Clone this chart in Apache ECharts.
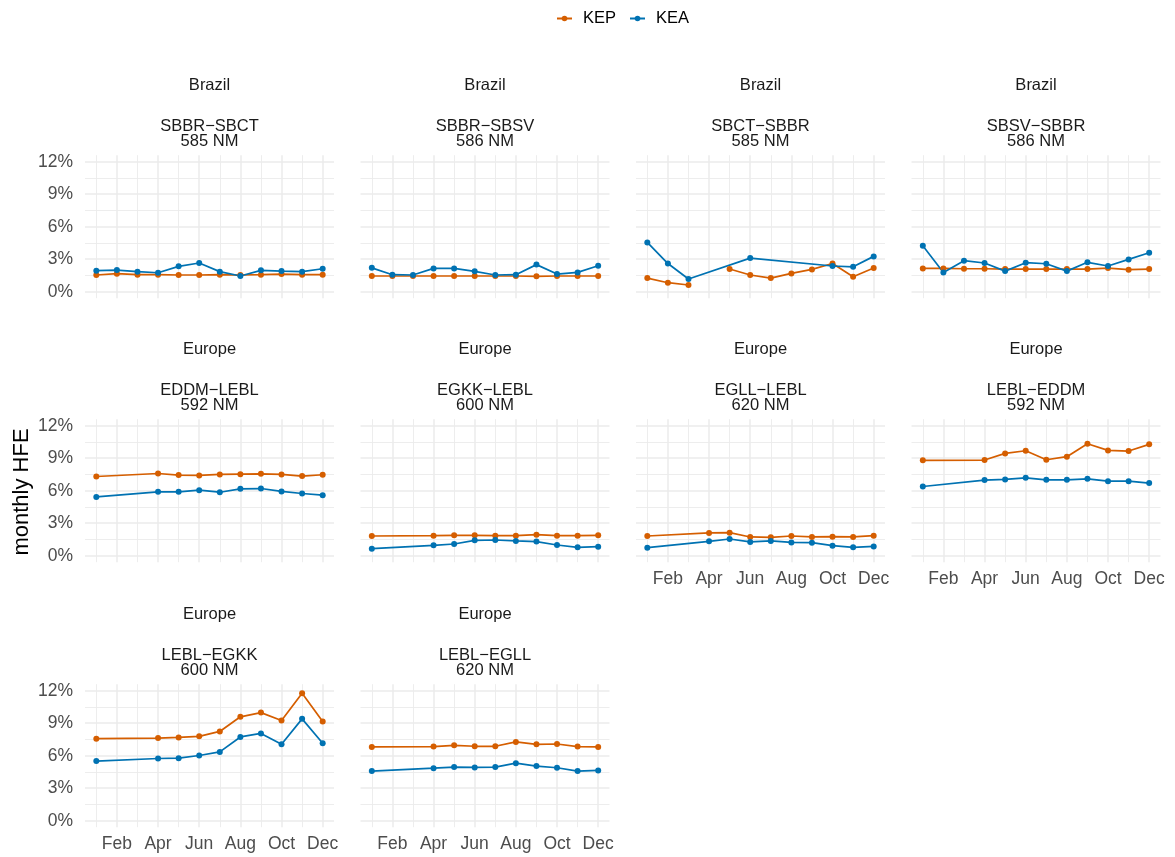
<!DOCTYPE html>
<html>
<head>
<meta charset="utf-8">
<script src="https://cdn.jsdelivr.net/npm/echarts@6/dist/echarts.min.js"></script>
<style>
html,body{margin:0;padding:0;background:#fff;}
#chart{width:1175px;height:857px;}
</style>
</head>
<body>
<div id="chart"></div>
<script>
// ---------- data ----------
var months = ['Jan','Feb','Mar','Apr','May','Jun','Jul','Aug','Sep','Oct','Nov','Dec'];
var xTickMonths = [2,4,6,8,10,12];
var xMinorMonths = [1,3,5,7,9,11];
var yTicks = [0,3,6,9,12];
var yMinorTicks = [1.5,4.5,7.5,10.5];
var seriesNames = ['KEP','KEA'];
var regions = ['Brazil','Brazil','Brazil','Brazil','Europe','Europe','Europe','Europe','Europe','Europe'];
var routes = ['SBBR\u2212SBCT','SBBR\u2212SBSV','SBCT\u2212SBBR','SBSV\u2212SBBR','EDDM\u2212LEBL','EGKK\u2212LEBL','EGLL\u2212LEBL','LEBL\u2212EDDM','LEBL\u2212EGKK','LEBL\u2212EGLL'];
var distances = ['585 NM','586 NM','585 NM','586 NM','592 NM','600 NM','620 NM','592 NM','600 NM','620 NM'];
// null = month absent (line connects over it); 'NA' = missing value (line breaks)
var kep = [
  [1.54,1.66,1.57,1.57,1.54,1.54,1.57,1.54,1.57,1.63,1.57,1.57],
  [1.45,1.45,1.45,1.45,1.45,1.45,1.45,1.45,1.42,1.45,1.45,1.45],
  [1.26,0.83,0.62,'NA',2.09,1.54,1.26,1.69,2.06,2.60,1.38,2.18],
  [2.15,2.15,2.12,2.12,2.09,2.09,2.09,2.09,2.09,2.18,2.03,2.09],
  [7.31,null,null,7.59,7.44,7.41,7.50,7.53,7.56,7.50,7.35,7.47],
  [1.82,null,null,1.85,1.88,1.88,1.85,1.85,1.94,1.85,1.85,1.88],
  [1.82,null,null,2.10,2.13,1.73,1.70,1.82,1.73,1.76,1.73,1.85],
  [8.80,null,null,8.83,9.44,9.69,8.86,9.14,10.34,9.72,9.66,10.28],
  [7.57,null,null,7.63,7.69,7.79,8.24,9.59,9.98,9.25,11.76,9.16],
  [6.81,null,null,6.84,6.96,6.87,6.87,7.27,7.05,7.08,6.84,6.81]
];
var kea = [
  [1.94,2.00,1.85,1.75,2.34,2.65,1.85,1.45,1.97,1.90,1.85,2.12],
  [2.20,1.57,1.54,2.15,2.15,1.88,1.54,1.57,2.50,1.63,1.78,2.40],
  [4.55,2.60,1.17,null,null,3.10,null,null,null,2.37,2.30,3.26],
  [4.25,1.78,2.86,2.65,1.90,2.68,2.58,1.90,2.71,2.37,2.98,3.60],
  [5.43,null,null,5.90,5.90,6.05,5.86,6.17,6.20,5.93,5.74,5.59],
  [0.65,null,null,0.96,1.08,1.42,1.45,1.36,1.30,0.99,0.77,0.83],
  [0.74,null,null,1.33,1.54,1.27,1.36,1.23,1.20,0.93,0.77,0.86],
  [6.39,null,null,6.98,7.04,7.19,7.00,7.00,7.10,6.88,6.88,6.70],
  [5.50,null,null,5.74,5.77,6.02,6.35,7.73,8.06,7.05,9.40,7.15],
  [4.58,null,null,4.85,4.95,4.92,4.95,5.31,5.04,4.89,4.58,4.64]
];

(function(){
  // ---------- layout / style ----------
  var FONT = '"Liberation Sans", Arial, Helvetica, sans-serif';
  var colors = {KEP:'#D55E00', KEA:'#0072B2'};
  var colLefts = [85, 360.5, 636, 911.5];
  var rowTops = [155.2, 419.2, 684.2];
  var panelW = 249, panelH = 143;
  var gridColor = '#EBEBEB';

  function toData(arr){
    var out = [];
    arr.forEach(function(v,i){
      if (v === null) return;
      out.push([i+1, v === 'NA' ? '-' : v]);
    });
    return out;
  }

  var grids = [], xAxes = [], yAxes = [], series = [], graphics = [];
  var nPanels = routes.length;
  for (var p = 0; p < nPanels; p++) {
    var rowI = Math.floor(p/4), colI = p % 4;
    var gx = colLefts[colI], gy = rowTops[rowI];
    grids.push({left:gx, top:gy, width:panelW, height:panelH});
    var showX = (p + 4 >= nPanels);
    var showY = (colI === 0);
    xAxes.push({
      gridIndex:p, type:'value', min:0.45, max:12.55,
      axisLine:{show:false, onZero:false},
      axisTick:{show:false, customValues:xTickMonths},
      axisLabel:{show:showX, customValues:xTickMonths, margin:8, color:'#4D4D4D', fontSize:17.5, fontFamily:FONT,
        formatter:function(v){ return months[Math.round(v)-1] || ''; }},
      splitLine:{show:true, lineStyle:{color:gridColor, width:1.5}}
    });
    xAxes.push({
      gridIndex:p, type:'value', min:0.45, max:12.55, position:'top',
      axisLine:{show:false, onZero:false},
      axisTick:{show:false, customValues:xMinorMonths},
      axisLabel:{show:false},
      splitLine:{show:true, lineStyle:{color:gridColor, width:0.9}}
    });
    yAxes.push({
      gridIndex:p, type:'value', min:-0.6, max:12.6, position:'left',
      axisLine:{show:false, onZero:false},
      axisTick:{show:false, customValues:yTicks},
      axisLabel:{show:showY, customValues:yTicks, margin:12, color:'#4D4D4D', fontSize:17.5, fontFamily:FONT,
        formatter:function(v){ return Math.round(v) + '%'; }},
      splitLine:{show:true, lineStyle:{color:gridColor, width:1.5}}
    });
    yAxes.push({
      gridIndex:p, type:'value', min:-0.6, max:12.6, position:'right',
      axisLine:{show:false, onZero:false},
      axisTick:{show:false, customValues:yMinorTicks},
      axisLabel:{show:false},
      splitLine:{show:true, lineStyle:{color:gridColor, width:0.9}}
    });
    [kep, kea].forEach(function(src, k){
      var name = seriesNames[k];
      series.push({
        name:name, type:'line', xAxisIndex:2*p, yAxisIndex:2*p,
        data:toData(src[p]), connectNulls:false,
        symbol:'circle', symbolSize:6, showSymbol:true,
        lineStyle:{color:colors[name], width:1.7},
        itemStyle:{color:colors[name]},
        emphasis:{disabled:true}, z:3
      });
    });
    var cx = gx + panelW/2;
    graphics.push({type:'text', x:cx, y:gy-70, style:{text:regions[p], font:'16.5px '+FONT, fill:'#1A1A1A', align:'center', verticalAlign:'middle'}});
    graphics.push({type:'text', x:cx, y:gy-29, style:{text:routes[p], font:'16.5px '+FONT, fill:'#1A1A1A', align:'center', verticalAlign:'middle'}});
    graphics.push({type:'text', x:cx, y:gy-13.5, style:{text:distances[p], font:'16.5px '+FONT, fill:'#1A1A1A', align:'center', verticalAlign:'middle'}});
  }
  graphics.push({type:'text', x:21.5, y:492, rotation:Math.PI/2,
    style:{text:'monthly HFE', font:'22px '+FONT, fill:'#000', align:'center', verticalAlign:'middle'}});

  var chart = echarts.init(document.getElementById('chart'), null, {renderer:'canvas'});
  chart.setOption({
    backgroundColor:'#fff',
    animation:false,
    legend:{
      data:seriesNames, top:5, left:551, itemWidth:15, itemHeight:7, itemGap:13,
      textStyle:{fontSize:16.5, fontFamily:FONT, color:'#000', padding:[0,0,0,6]},
      selectedMode:false
    },
    grid:grids, xAxis:xAxes, yAxis:yAxes, series:series, graphic:graphics
  });
})();
</script>
</body>
</html>
